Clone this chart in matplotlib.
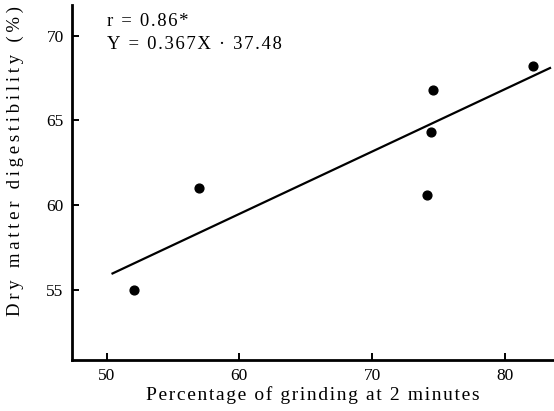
import matplotlib
matplotlib.use("Agg")
import matplotlib.pyplot as plt
import numpy as np

# Data
grinding_pct = [52.1, 57.0, 74.1, 74.4, 74.6, 82.1]
dm_digestibility = [55.0, 61.0, 60.6, 64.3, 66.8, 68.2]
slope = 0.367
intercept = 37.48
line_x_range = [50.45, 83.4]
x_ticks = [50, 60, 70, 80]
y_ticks = [55, 60, 65, 70]
x_label = "Percentage of grinding at 2 minutes"
y_label = "Dry matter digestibility (%)"
annot_r = "r = 0.86*"
annot_eq = "Y = 0.367X · 37.48"

plt.rcParams['font.family'] = ['Liberation Serif', 'DejaVu Serif']


def spaced(text, sep):
    # letter-spacing imitation of the old typeset look
    return sep.join(text)


fig = plt.figure(figsize=(5.54, 4.11), dpi=100)
ax = fig.add_axes([0.130, 0.124, 0.870, 0.864])

ax.scatter(grinding_pct, dm_digestibility, s=40, color='black', zorder=3)
lx = np.array(line_x_range)
ax.plot(lx, slope * lx + intercept, color='black', lw=1.6)

ax.set_xlim(47.4, 83.7)
ax.set_ylim(50.9, 71.8)
ax.set_xticks(x_ticks)
ax.set_yticks(y_ticks)
ax.tick_params(direction='in', length=5, width=1.4, labelsize=12.5, pad=6)
for s in ['top', 'right']:
    ax.spines[s].set_visible(False)
for s in ['left', 'bottom']:
    ax.spines[s].set_linewidth(2)

ax.set_xlabel(spaced(x_label, "\u200a"), fontsize=14, labelpad=1)
ax.set_ylabel(spaced(y_label, "\u2009"), fontsize=13.5)
ax.yaxis.set_label_coords(-0.10, 0.56)

ax.text(50.0, 70.8, spaced(annot_r, "\u200a"), fontsize=13.5, va='center', ha='left')
ax.text(50.0, 69.45, spaced(annot_eq, "\u200a"), fontsize=13.5, va='center', ha='left')

fig.savefig("out.png", dpi=100)
